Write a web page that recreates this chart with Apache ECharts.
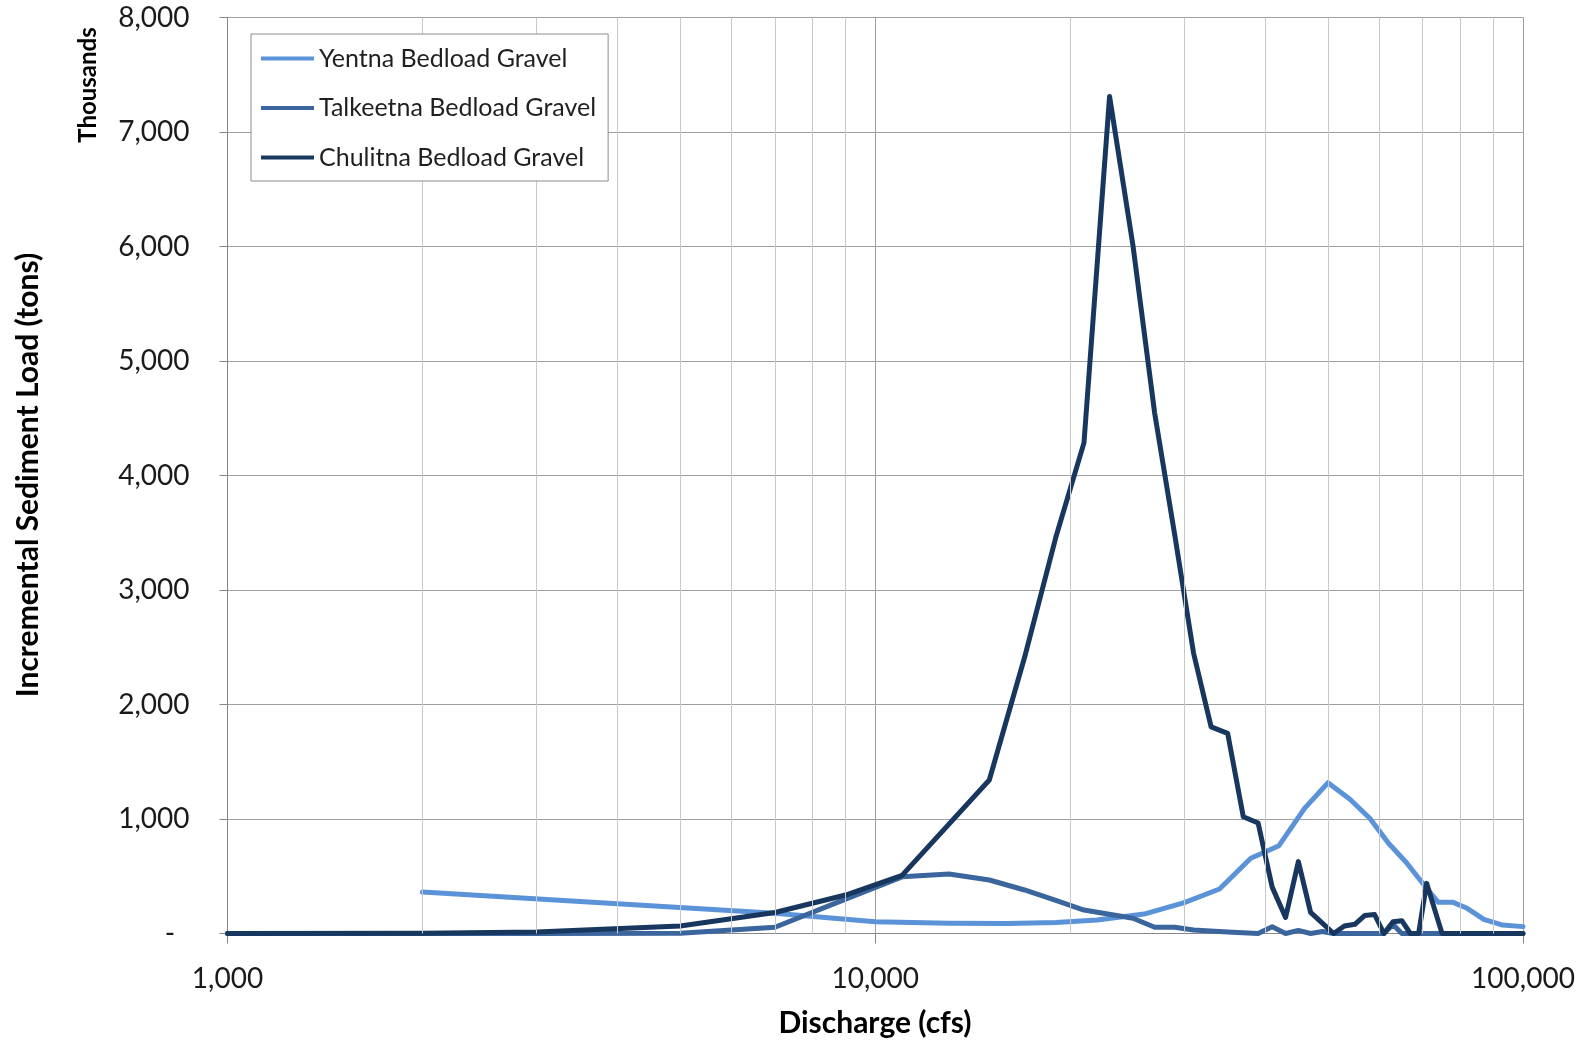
<!DOCTYPE html>
<html><head><meta charset="utf-8">
<script src="https://cdn.jsdelivr.net/npm/echarts@6/dist/echarts.min.js"></script>
<style>html,body{margin:0;padding:0;background:#fff}#c{width:1585px;height:1042px}</style>
</head><body><div id="c"></div>
<script>
// Series names
const seriesNames = ['Yentna Bedload Gravel', 'Talkeetna Bedload Gravel', 'Chulitna Bedload Gravel'];

// Discharge (cfs) and incremental load (thousands of tons)
const yentnaQ    = [2000, 7000, 10000, 13000, 16000, 19000, 22000, 26000, 30000, 34000, 38000, 42000, 46000, 50000, 54000, 58000, 62000, 66000, 71000, 74000, 78000, 82000, 87000, 93000, 100000];
const yentnaLoad = [362, 176, 103, 90, 88, 96, 118, 170, 270, 389, 657, 767, 1093, 1317, 1175, 1006, 788, 622, 395, 272, 272, 220, 124, 74, 60];

const talkeetnaQ    = [1000, 2000, 3000, 5000, 7000, 9000, 11000, 13000, 15000, 17000, 19000, 21000, 25000, 27000, 29000, 31000, 35000, 39000, 41000, 43000, 45000, 47000, 49000, 51000, 61000, 63000, 65000, 100000];
const talkeetnaLoad = [0, 0, 0, 2, 55, 300, 495, 520, 467, 380, 290, 205, 133, 54, 54, 31, 14, 0, 58, 0, 27, 0, 18, 0, 0, 78, 0, 0];

const chulitnaQ    = [1000, 2000, 3000, 5000, 7000, 9000, 11000, 15000, 17000, 19000, 21000, 23000, 25000, 27000, 29000, 31000, 33000, 35000, 37000, 39000, 41000, 43000, 45000, 47000, 49000, 51000, 53000, 55000, 57000, 59000, 61000, 63000, 65000, 67000, 69000, 71000, 73000, 75000, 100000];
const chulitnaLoad = [0, 3, 14, 65, 183, 336, 508, 1341, 2410, 3460, 4285, 7310, 6005, 4545, 3480, 2450, 1805, 1748, 1020, 965, 405, 140, 628, 185, 90, 0, 65, 80, 158, 166, 0, 103, 112, 0, 0, 438, 215, 0, 0];

// Axis ticks
const xMin = 1000, xMax = 100000;
const yMin = 0, yMax = 8000, yStep = 1000;
const minorGridQ = [2000,3000,4000,5000,6000,7000,8000,9000,20000,30000,40000,50000,60000,70000,80000,90000];

const colors = ['#5B93D8', '#3A659D', '#18375F'];
const FONT = 'Lato';

function pairs(q, v) { return q.map((x, i) => [x, v[i]]); }

const chart = echarts.init(document.getElementById('c'), null, {renderer: 'canvas'});
const lineSeries = [
  pairs(yentnaQ, yentnaLoad),
  pairs(talkeetnaQ, talkeetnaLoad),
  pairs(chulitnaQ, chulitnaLoad)
].map((d, i) => ({
  name: seriesNames[i],
  type: 'line',
  data: d,
  symbol: 'none',
  showSymbol: false,
  smooth: false,
  lineStyle: {color: colors[i], width: 5, cap: 'round', join: 'round'},
  itemStyle: {color: colors[i]},
  emphasis: {disabled: true},
  z: 3,
  animation: false
}));

chart.setOption({
  animation: false,
  backgroundColor: '#ffffff',
  grid: {left: 227.5, right: 62, top: 17.5, bottom: 108.5, containLabel: false},
  legend: {
    data: seriesNames.map(n => ({name: n, icon: 'rect'})),
    orient: 'vertical',
    left: 251, top: 34,
    padding: [12, 12, 11, 10],
    itemWidth: 53, itemHeight: 4, itemGap: 24.5,
    borderColor: '#8C8C8C', borderWidth: 1, backgroundColor: '#ffffff',
    textStyle: {fontFamily: FONT, fontSize: 25, lineHeight: 24, color: '#1f1f1f'},
    z: 10
  },
  xAxis: {
    type: 'log', logBase: 10, min: xMin, max: xMax,
    axisLine: {show: true, lineStyle: {color: '#868686', width: 1}},
    axisTick: {show: true, length: 10, inside: false, lineStyle: {color: '#868686'}},
    axisLabel: {
      fontFamily: FONT, fontSize: 28, color: '#1a1a1a', margin: 31,
      formatter: v => Number(v).toLocaleString('en-US')
    },
    splitLine: {show: true, lineStyle: {color: '#A0A0A0', width: 1}},
    minorTick: {show: false}
  },
  yAxis: {
    type: 'value', min: yMin, max: yMax, interval: yStep,
    axisLine: {show: true, lineStyle: {color: '#868686', width: 1}},
    axisTick: {show: true, length: 8, lineStyle: {color: '#868686'}},
    axisLabel: {
      fontFamily: FONT, fontSize: 28, color: '#1a1a1a', margin: 38,
      formatter: v => v === 0 ? '-  ' : Number(v).toLocaleString('en-US')
    },
    splitLine: {show: true, lineStyle: {color: '#A0A0A0', width: 1.2}}
  },
  graphic: [
    {type: 'text', x: 88, y: 85, rotation: Math.PI / 2, z: 10,
     style: {text: 'Thousands', font: 'bold 24px ' + FONT, fill: '#000', textAlign: 'center', textVerticalAlign: 'middle'}},
    {type: 'text', x: 28, y: 475, rotation: Math.PI / 2, z: 10,
     style: {text: 'Incremental Sediment Load (tons)', font: 'bold 30px ' + FONT, fill: '#000', textAlign: 'center', textVerticalAlign: 'middle'}},
    {type: 'text', x: 875, y: 1023, z: 10,
     style: {text: 'Discharge (cfs)', font: 'bold 30px ' + FONT, fill: '#000', textAlign: 'center', textVerticalAlign: 'middle'}}
  ],
  series: [{
    name: 'minor-grid', type: 'line', data: [], z: 1, silent: true,
    markLine: {
      silent: true, symbol: ['none', 'none'], label: {show: false},
      lineStyle: {color: '#C9C9C9', width: 1, type: 'solid'},
      emphasis: {disabled: true},
      animation: false,
      data: minorGridQ.map(q => ({xAxis: q}))
    }
  }].concat(lineSeries)
});
</script></body></html>
